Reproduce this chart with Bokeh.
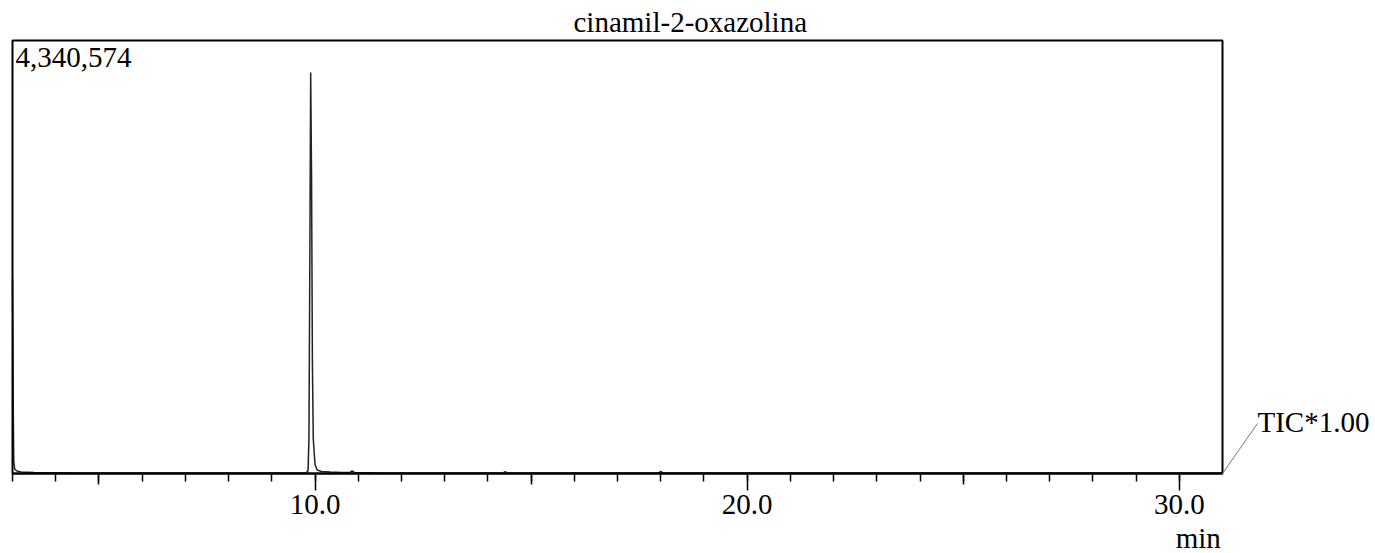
from bokeh.plotting import figure
from bokeh.models import (Range1d, LinearAxis, FixedTicker, Label, Arrow,
                          NumeralTickFormatter, BoxAnnotation)
from bokeh.embed import file_html
from bokeh.resources import INLINE

# ---- texts ----
title_text = "cinamil-2-oxazolina"
max_label = "4,340,574"
trace_label = "TIC*1.00"
x_unit = "min"

# ---- axis values ----
y_max = 4340574
x_start, x_end = 3.0, 31.0
major_ticks = [10, 20, 30]
mid_ticks = [5, 15, 25]
minor_ticks = list(range(3, 31))

# ---- chromatogram (TIC) ----
time_min = [3.00, 3.01, 3.02, 3.03, 3.05, 3.10, 3.20, 3.50, 4.5, 6.0, 8.0, 9.5,
            9.80, 9.84, 9.86, 9.88, 9.90, 9.92, 9.94, 9.96, 10.00, 10.05, 10.15,
            10.35, 10.6, 10.80, 10.86, 10.92, 11.5, 13.0, 14.35, 14.40, 14.45,
            16.0, 17.95, 18.00, 18.05, 20.0, 24.0, 28.0, 31.0]
intensity = [1950000, 1300000, 500000, 120000, 45000, 25000, 15000, 9000, 6000,
             5000, 5000, 5000, 8000, 30000, 350000, 2100000, 4020000, 3000000,
             1100000, 350000, 90000, 35000, 20000, 14000, 9000, 9000, 26000, 9000,
             5000, 5000, 5000, 20000, 5000, 5000, 5000, 22000, 5000, 5000, 5000,
             5000, 5000]

FONT = "'Liberation Serif', 'Times New Roman', serif"
FS = "29px"

W, H = 1375, 553
# plotting box placement in pixels
BOX_L, BOX_R, BOX_T, BOX_B = 12, 1222, 40, 473
xpx = (x_end - x_start) / (BOX_R - BOX_L)
ypx = y_max / (BOX_B - BOX_T)

p = figure(width=W, height=H, output_backend="svg", toolbar_location=None,
           x_range=Range1d(x_start - BOX_L * xpx, x_end + (W - BOX_R) * xpx),
           y_range=Range1d(-(H - BOX_B) * ypx, y_max + BOX_T * ypx),
           y_axis_location=None, x_axis_location=None,
           min_border_left=0, min_border_right=0, min_border_top=0,
           min_border_bottom=0)
p.grid.visible = False
p.outline_line_color = None
p.background_fill_color = "white"
p.border_fill_color = "white"

ax = LinearAxis(ticker=FixedTicker(ticks=major_ticks, minor_ticks=minor_ticks),
                formatter=NumeralTickFormatter(format="0.0"),
                fixed_location=0, bounds=(x_start, x_end))
ax.axis_line_color = "black"
ax.axis_line_width = 2
ax.major_tick_out = 17
ax.major_tick_in = 0
ax.minor_tick_out = 8
ax.minor_tick_in = 0
ax.major_tick_line_width = 1.5
ax.minor_tick_line_width = 1.5
ax.major_tick_line_color = "black"
ax.minor_tick_line_color = "black"
ax.major_label_text_font = FONT
ax.major_label_text_font_size = FS
ax.major_label_text_color = "black"
ax.major_label_standoff = 4
p.add_layout(ax, "below")

ax2 = LinearAxis(ticker=FixedTicker(ticks=mid_ticks, minor_ticks=[]),
                 fixed_location=0, bounds=(x_start, x_end))
ax2.axis_line_color = None
ax2.major_tick_out = 11
ax2.major_tick_in = 0
ax2.major_tick_line_width = 1.5
ax2.major_tick_line_color = "black"
ax2.major_label_text_font_size = "0px"
ax2.minor_tick_line_color = None
p.add_layout(ax2, "below")

p.add_layout(BoxAnnotation(left=x_start, right=x_end, bottom=0, top=y_max,
                           fill_alpha=0, line_color="black", line_alpha=1,
                           line_width=2))

p.line(time_min, intensity, line_color="#222222", line_width=1.5)

p.add_layout(Label(x=x_start, y=y_max, x_offset=561, y_offset=19, text=title_text,
                   text_font=FONT, text_font_size=FS, text_baseline="alphabetic",
                   text_color="black"))
p.add_layout(Label(x=x_start, y=y_max, x_offset=3, y_offset=-17, text=max_label,
                   text_font=FONT, text_font_size=FS, text_baseline="alphabetic",
                   text_color="black"))
p.add_layout(Label(x=x_end, y=0, x_offset=35, y_offset=52, text=trace_label,
                   text_font=FONT, text_font_size=FS, text_baseline="alphabetic",
                   text_color="black"))
p.add_layout(Label(x=major_ticks[-1], y=0, x_offset=19, y_offset=-64, text=x_unit,
                   text_font=FONT, text_font_size=FS, text_baseline="alphabetic",
                   text_align="center", text_color="black"))
p.add_layout(Arrow(end=None, x_start=x_end, y_start=0, x_end=x_end + 35 * xpx,
                   y_end=50 * ypx, line_color="#777777", line_width=1))

open("out.html", "w").write(file_html(p, INLINE))
